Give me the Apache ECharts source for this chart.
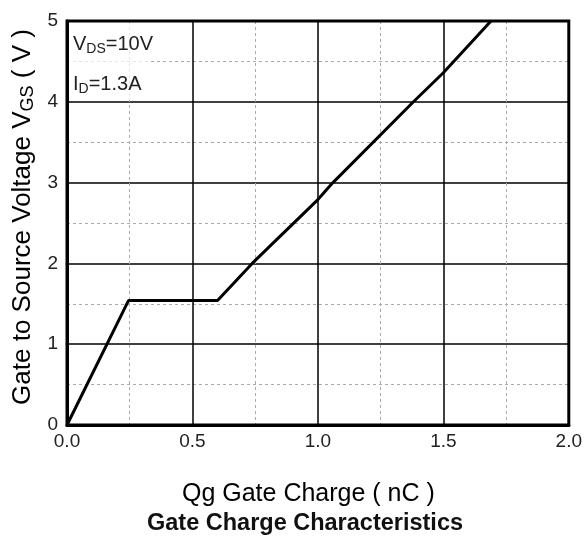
<!DOCTYPE html>
<html>
<head>
<meta charset="utf-8">
<script src="https://cdn.jsdelivr.net/npm/echarts@6/dist/echarts.min.js"></script>
<style>
  html, body { margin: 0; padding: 0; background: #fff; }
  #chart { width: 585px; height: 549px; }
</style>
</head>
<body>
<div id="chart"></div>
<script>
// gate charge Qg (nC) vs gate-source voltage VGS (V)
var qg = [0, 0.245, 0.6, 0.738, 1.0, 1.06, 1.381, 1.5, 1.69];
var vgs = [0, 1.54, 1.54, 2.0, 2.79, 3.0, 4.0, 4.36, 5.0];
var xTicks = [0, 0.5, 1.0, 1.5, 2.0];
var yTicks = [0, 1, 2, 3, 4, 5];

var font = "Liberation Sans, Arial, sans-serif";
var chart = echarts.init(document.getElementById("chart"));

var points = qg.map(function (x, i) { return [x, vgs[i]]; });

// rich text styles for the subscripts
var annoRich = {
  n: { fontFamily: font, fontSize: 20, lineHeight: 20, fill: "#222", verticalAlign: "top" },
  s: { fontFamily: font, fontSize: 14, lineHeight: 14, fill: "#222", padding: [9, 0, 0, 0] }
};

chart.setOption({
  animation: false,
  title: {
    text: "Gate Charge Characteristics",
    left: 305,
    textAlign: "center",
    top: 512,
    padding: 0,
    textStyle: { fontFamily: font, fontSize: 23.5, lineHeight: 23, fontWeight: "bold", color: "#111" }
  },
  grid: {
    left: 67,
    top: 21,
    right: 15,
    bottom: 124,
    show: true,
    borderColor: "#000",
    borderWidth: 3,
    z: 3
  },
  xAxis: {
    type: "value",
    min: 0,
    max: 2,
    interval: 0.5,
    name: "Qg Gate Charge ( nC )",
    nameLocation: "middle",
    nameGap: 57,
    nameTextStyle: { fontFamily: font, fontSize: 25, lineHeight: 25, color: "#000", padding: [0, 19, 0, 0] },
    axisLine: { show: true, lineStyle: { color: "#000", width: 3 } },
    axisTick: { show: false },
    axisLabel: {
      fontFamily: font, fontSize: 19, lineHeight: 19, color: "#222", margin: 7,
      formatter: function (v) { return xTicks.indexOf(v) >= 0 ? v.toFixed(1) : ""; }
    },
    splitLine: { show: true, lineStyle: { color: "#000", width: 1.5 } },
    minorTick: { show: false, splitNumber: 2 },
    minorSplitLine: { show: true, lineStyle: { color: "#aaa", width: 1, type: [3, 3] } }
  },
  yAxis: {
    type: "value",
    min: 0,
    max: 5,
    interval: 1,
    name: "{n|Gate to Source Voltage V}{s|GS}{n| ( V )}",
    nameLocation: "middle",
    nameRotate: 90,
    nameGap: 28,
    nameTextStyle: {
      fontFamily: font, fontSize: 26, color: "#000",
      padding: [0, 0, 0, 12],
      rich: {
        n: { fontFamily: font, fontSize: 26, lineHeight: 26, color: "#000", verticalAlign: "top" },
        s: { fontFamily: font, fontSize: 18, lineHeight: 18, color: "#000", padding: [9, 0, 0, 0] }
      }
    },
    axisLine: { show: true, lineStyle: { color: "#000", width: 3 } },
    axisTick: { show: false },
    axisLabel: {
      fontFamily: font, fontSize: 19, color: "#222", margin: 9,
      padding: [0, 0, 5, 0],
      formatter: function (v) { return yTicks.indexOf(v) >= 0 ? String(v) : ""; }
    },
    splitLine: { show: true, lineStyle: { color: "#000", width: 1.5 } },
    minorTick: { show: false, splitNumber: 2 },
    minorSplitLine: { show: true, lineStyle: { color: "#aaa", width: 1, type: [3, 3] } }
  },
  graphic: [
    {
      type: "rect",
      left: 69, top: 23,
      shape: { width: 82, height: 77 },
      style: { fill: "#fff", opacity: 0.7 },
      z: 2
    },
    {
      type: "text",
      left: 73, top: 33,
      z: 4,
      style: { text: "{n|V}{s|DS}{n|=10V}", rich: annoRich }
    },
    {
      type: "text",
      left: 73, top: 73,
      z: 4,
      style: { text: "{n|I}{s|D}{n|=1.3A}", rich: annoRich }
    }
  ],
  series: [
    {
      type: "line",
      data: points,
      symbol: "none",
      lineStyle: { color: "#000", width: 3 },
      z: 5
    }
  ]
});
</script>
</body>
</html>
